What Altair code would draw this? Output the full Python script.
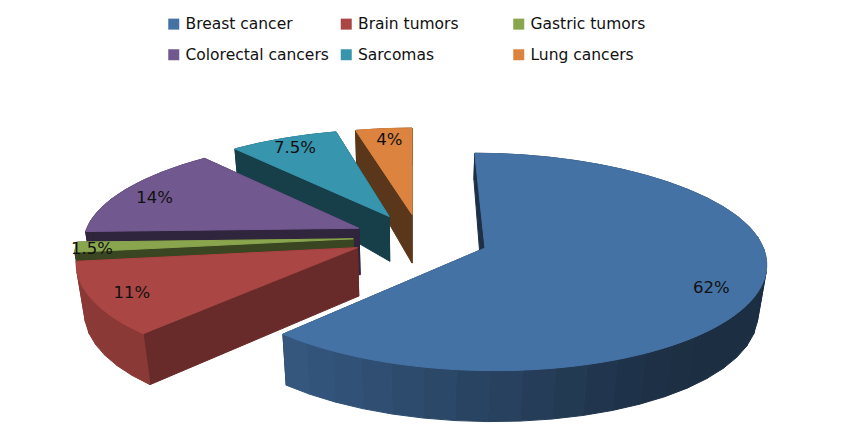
import math
import altair as alt

# chart values
categories = ["Breast cancer", "Brain tumors", "Gastric tumors", "Colorectal cancers", "Sarcomas", "Lung cancers"]
legend_order = ["Breast cancer", "Colorectal cancers", "Brain tumors", "Sarcomas", "Gastric tumors", "Lung cancers"]
shares = [62, 11, 1.5, 14, 7.5, 4]
labels = ["62%", "11%", "1.5%", "14%", "7.5%", "4%"]
colors = ["#4572A5", "#AA4643", "#89A54E", "#71588F", "#3795AE", "#DC843F"]

# pie styling: explosion of each slice, side-wall shade, label placement
explode_x = [0.262, -0.196, -0.213, -0.195, -0.085, 0.0]
explode_y = [-0.104, -0.10, -0.017, 0.084, 0.20, 0.22]
side_shade = [0.42, 0.62, 0.42, 0.42, 0.42, 0.41]
back_fade = [27, 27, 27, 27, 27, 10]
label_frac = [0.845, 0.86, 0.94, 0.85, 0.86, 0.85]
label_nudge = [3.3, -0.6, -1.5, -2.2, -0.5, 0.6]
draw_order = [5, 4, 3, 2, 1, 0]

OX, OY = 8, 8          # page margin
CX, CY = 412 - OX, 237 - OY
R, RQ = 275, 105
PERSP = 0.12
BACK_X, BACK_Y = 0.05, 0.02
DEPTH = 51


def hex_shade(col, f):
    r, g, b = (int(col[i:i + 2], 16) for i in (1, 3, 5))
    return "#%02x%02x%02x" % (round(r * f), round(g * f), round(b * f))


def project(X, Y):
    back = max(Y, 0.0) ** 2
    return (CX + R * X / (1 + PERSP * Y + BACK_X * back),
            CY - RQ * Y / (1 + PERSP * Y + BACK_Y * back))


def drop(pt, fade):
    x, y = pt
    d = DEPTH - fade * (max(0.0, 372 - OY - y) / 224) ** 4
    return x + 0.0256 * (CX - x) * d / DEPTH, y + d


def rim(i, deg):
    t = math.radians(deg)
    return project(explode_x[i] + math.sin(t), explode_y[i] + math.cos(t))


def wall_shade(i, deg):
    if i == 1:
        return 0.82
    if i != 0:
        return side_shade[i]
    stops = [(0, 0.40), (135, 0.40), (150, 0.42), (180, 0.58), (205, 0.70), (224, 0.78)]
    for (a, va), (b, vb) in zip(stops, stops[1:]):
        if a <= deg <= b:
            return va + (vb - va) * (deg - a) / (b - a)
    return 0.78


features, keys, key_colors = [], [], []


def add(key, col, pts):
    ring = [list(p) for p in pts] + [list(pts[0])]
    features.append({"type": "Feature", "properties": {"key": key},
                     "geometry": {"type": "Polygon", "coordinates": [ring]}})
    keys.append(key)
    key_colors.append(col)


starts = []
total = 0.0
for v in shares:
    starts.append(total / sum(shares) * 360)
    total += v

for i in draw_order:
    a0 = starts[i]
    a1 = a0 + shares[i] / sum(shares) * 360
    tip = project(explode_x[i], explode_y[i])
    fade = back_fade[i]
    side = hex_shade(colors[i], side_shade[i])
    for n, deg in enumerate((a0, a1)):
        p = rim(i, deg)
        add(f"side {i} {n}", side, [tip, p, drop(p, fade), drop(tip, fade)])
    n_q = max(1, round((a1 - a0) / 6))
    for q in range(n_q):
        d0 = a0 + (a1 - a0) * q / n_q
        d1 = a0 + (a1 - a0) * (q + 1) / n_q
        p0, p1 = rim(i, d0), rim(i, d1)
        add(f"wall {i} {q}", hex_shade(colors[i], wall_shade(i, (d0 + d1) / 2)),
            [p0, p1, drop(p1, fade), drop(p0, fade)])
    n_t = max(2, round((a1 - a0) / 2))
    top = [tip] + [rim(i, a0 + (a1 - a0) * k / n_t) for k in range(n_t + 1)]
    add(categories[i], colors[i], top)

label_rows = []
for i, text in enumerate(labels):
    mid = starts[i] + shares[i] / sum(shares) * 180 + label_nudge[i]
    t = math.radians(mid)
    x, y = project(explode_x[i] + label_frac[i] * math.sin(t),
                   explode_y[i] + label_frac[i] * math.cos(t))
    label_rows.append({"lon": x, "lat": y, "text": text})

proj = dict(type="identity", scale=1, translate=[0, 0])
color_scale = alt.Scale(domain=keys, range=key_colors)

pie = (
    alt.Chart(alt.Data(values=features))
    .mark_geoshape(strokeWidth=1, strokeJoin="round")
    .encode(
        color=alt.Color(
            "properties.key:N",
            scale=color_scale,
            legend=alt.Legend(
                values=legend_order,
                title=None,
                orient="none",
                legendX=166 - OX,
                legendY=16 - OY,
                columns=3,
                gridAlign="all",
                columnPadding=9.5,
                rowPadding=14,
                symbolType="square",
                symbolSize=121,
                symbolStrokeWidth=0,
                labelFont="DejaVu Sans",
                labelFontSize=15.5,
                labelColor="#111111",
                labelLimit=300,
                labelOffset=4,
                padding=0,
            ),
        ),
        stroke=alt.Stroke("properties.key:N", scale=color_scale, legend=None),
    )
    .project(**proj)
)

text = (
    alt.Chart(alt.Data(values=label_rows))
    .mark_text(font="DejaVu Sans", fontSize=16.5, color="#111111")
    .encode(longitude="lon:Q", latitude="lat:Q", text="text:N")
    .project(**proj)
)

chart = (
    alt.layer(pie, text)
    .properties(width=834, height=425, padding=0, autosize=alt.AutoSizeParams(type="none"))
    .configure_view(stroke=None)
)

chart.save("out.html", embed_options={"renderer": "svg", "actions": False})
